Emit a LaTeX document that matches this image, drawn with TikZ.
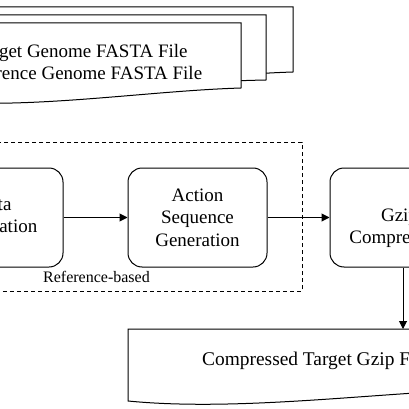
\documentclass[tikz,border=0pt]{standalone}
\usepackage{fontspec}
\setmainfont{Liberation Serif}
\usetikzlibrary{arrows.meta}

\begin{document}
\begin{tikzpicture}[x=1pt,y=-1pt,
		procbox/.style={draw,line width=1pt,rounded corners=14pt,minimum width=139pt,minimum height=99pt,align=center,font=\fontsize{19}{22.5}\selectfont},
		doc/.style={draw,line width=1pt,fill=white},
		flow/.style={line width=1pt,-{Triangle[length=8pt,width=8pt]}},
		txt/.style={align=center,font=\fontsize{19}{22}\selectfont}]
		\useasboundingbox (0,0) rectangle (409,409);
		\clip (0,0) rectangle (409,409);
		% input files
		\filldraw[doc] (-21,7)--(293,7)--(293,72) .. controls (195,75) and (75,95) .. (-21,84)--cycle;
		\filldraw[doc] (-48,15)--(266,15)--(266,80) .. controls (118,83) and (-2,103) .. (-48,92)--cycle;
		\filldraw[doc] (-73,23)--(241,23)--(241,88) .. controls (143,91) and (23,111) .. (-73,100)--cycle;
		\node[txt] (fasta) at (81,62.5) {Target Genome FASTA File\\Reference Genome FASTA File};
		% reference-based part
		\draw[line width=1pt,dash pattern=on 4pt off 3pt] (-100,142) rectangle (302,291);
		\node[procbox] (prep) at (-6.5,217.5) {Data\\Preparation};
		\node[procbox] (action) at (197.5,217.5) {Action\\Sequence\\Generation};
		\node[procbox] (gzip) at (399.5,217.5) {};
		\node[txt] (gziptext) at (399.5,228.5) {Gzip\\Compression};
		\node[anchor=base west,inner sep=0pt,font=\fontsize{16}{19}\selectfont] (refbased) at (43,282) {Reference-based};
		% output file
		\filldraw[doc] (128,329)--(494,329)--(494,389) .. controls (380,392) and (240,412) .. (128,401)--cycle;
		\node[anchor=base west,inner sep=0pt,font=\fontsize{19.4}{22}\selectfont] (gzfile) at (202,365) {Compressed Target Gzip File};
		\coordinate (gztop) at (403,329);
		\draw[flow] (prep) -- (action);
		\draw[flow] (action) -- (gzip);
		\draw[flow] (gzip.south -| gztop) -- (gztop);
\end{tikzpicture}
\end{document}
